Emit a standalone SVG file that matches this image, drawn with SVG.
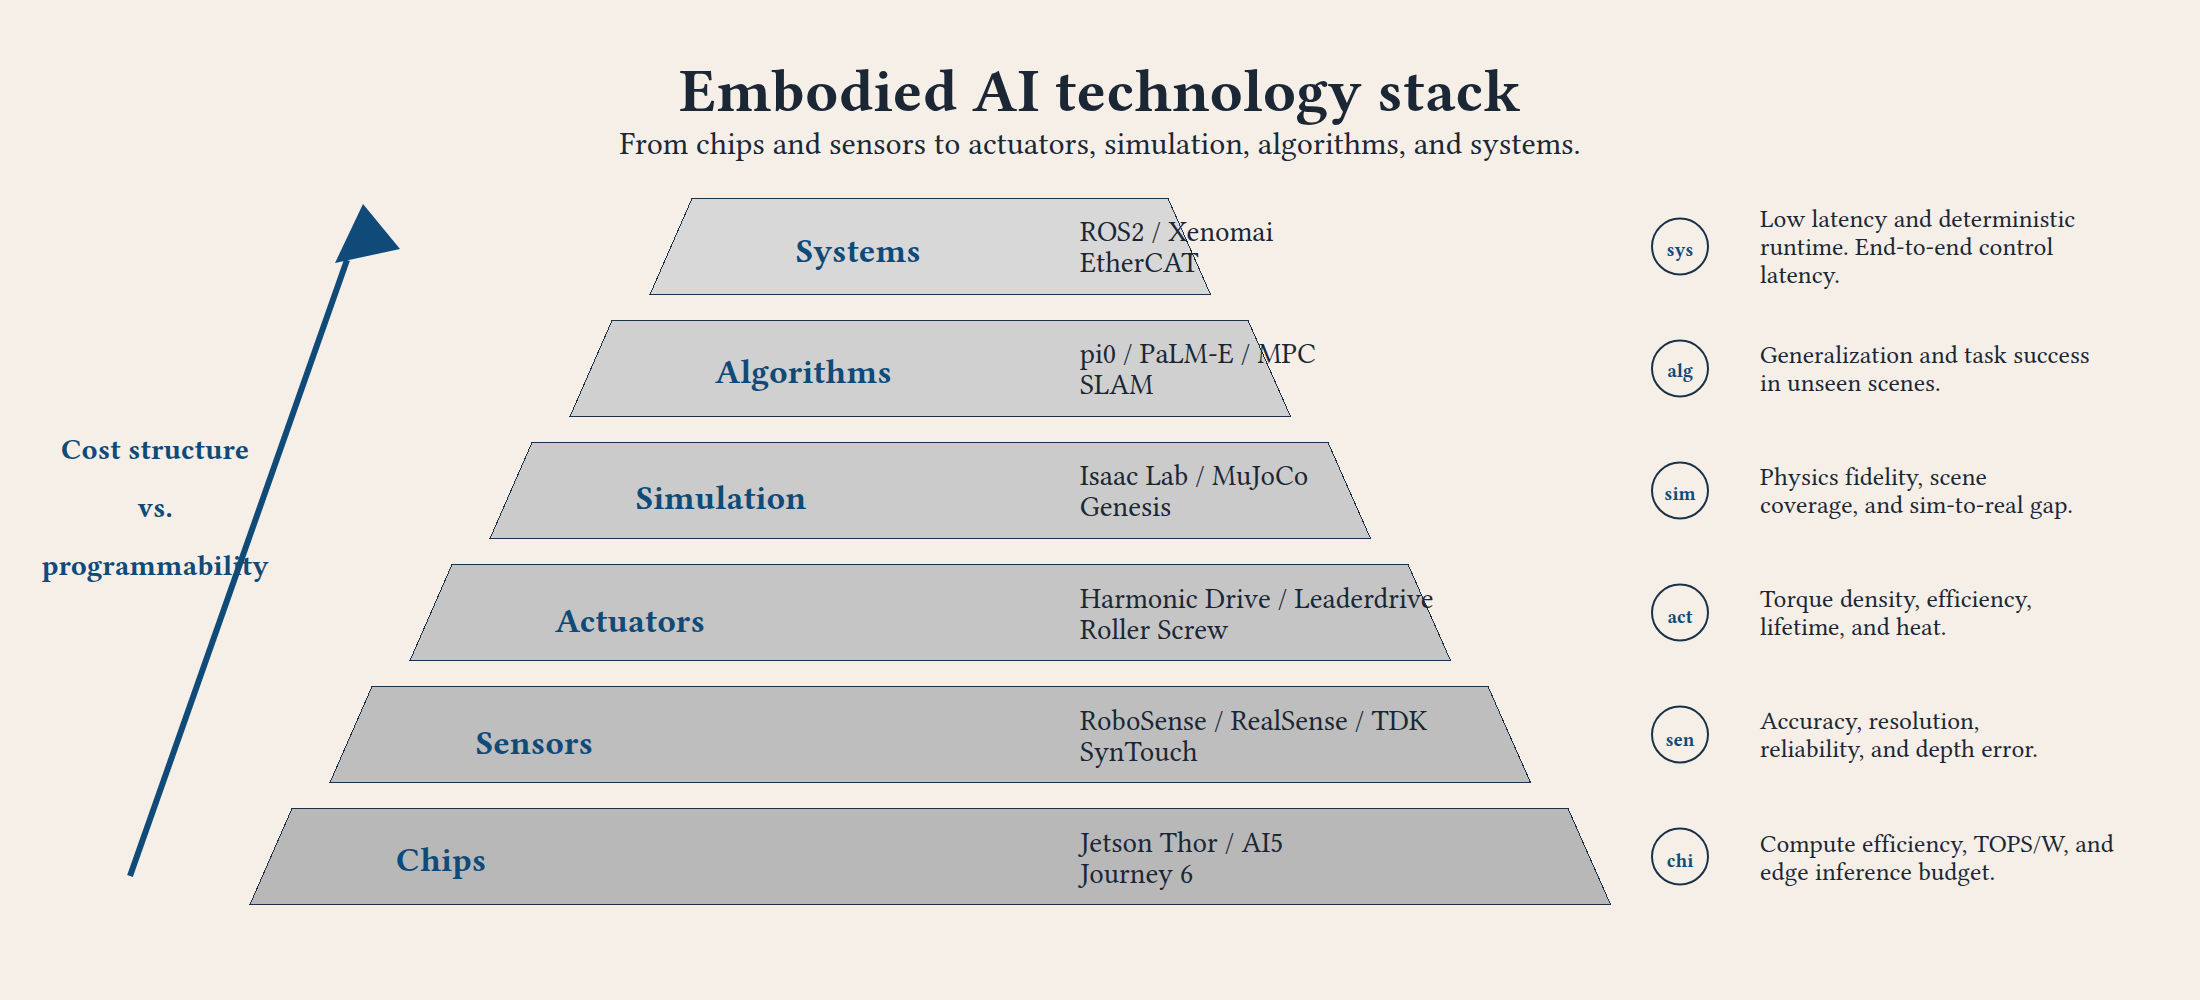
<svg xmlns="http://www.w3.org/2000/svg" width="2200" height="1000" viewBox="0 0 2200 1000">
<style>
text{font-family:"Libertinus Serif","Noto Serif CJK SC",serif}
.t{font-size:60.8px;font-weight:700;fill:#1b2735;text-anchor:middle}
.s{font-size:32px;fill:#1b2735;text-anchor:middle}
.l{font-size:34px;font-weight:700;fill:#0f4a78}
.d{font-size:28.8px;fill:#1b2735}
.n{font-size:25.5px;fill:#1b2735}
.c{font-size:19px;font-weight:700;fill:#0f4a78;text-anchor:middle}
.a{font-size:29.3px;font-weight:700;fill:#0f4a78;text-anchor:middle}
.b{stroke:#1b3148;stroke-width:1;shape-rendering:crispEdges}
.r{fill:none;stroke:#1b3148;stroke-width:2}
</style>
<rect width="2200" height="1000" fill="#f5efe8"/>
<g id="title"><text class="t" x="1100" y="111">Embodied AI technology stack</text><text class="s" x="1100" y="154">From chips and sensors to actuators, simulation, algorithms, and systems.</text></g>
<g id="connectors">
<line x1="130" y1="876" x2="347" y2="260" stroke="#0f4a78" stroke-width="6"/>
<polygon points="363,204 400,249 335,263" fill="#0f4a78"/>
</g>
<g id="axis-label"><text class="a" x="155" y="459">Cost structure</text><text class="a" x="155" y="517">vs.</text><text class="a" x="155" y="575">programmability</text></g>
<g id="systems"><polygon class="b" fill="#d8d8d8" points="692,198.5 1168,198.5 1210.5,294.5 650,294.5"/><text class="l" x="796" y="262">Systems</text><text class="d" x="1080" y="241">ROS2 / Xenomai</text><text class="d" x="1080" y="272">EtherCAT</text><circle class="r" cx="1680" cy="246.5" r="28"/><text class="c" x="1680" y="256">sys</text><text class="n" x="1760" y="227">Low latency and deterministic</text><text class="n" x="1760" y="255">runtime. End-to-end control</text><text class="n" x="1760" y="283">latency.</text></g>
<g id="algorithms"><polygon class="b" fill="#d0d0d0" points="612,320.5 1248,320.5 1290.5,416.5 570,416.5"/><text class="l" x="715" y="383">Algorithms</text><text class="d" x="1080" y="363">pi0 / PaLM-E / MPC</text><text class="d" x="1080" y="394">SLAM</text><circle class="r" cx="1680" cy="368.5" r="28"/><text class="c" x="1680" y="377">alg</text><text class="n" x="1760" y="363">Generalization and task success</text><text class="n" x="1760" y="391">in unseen scenes.</text></g>
<g id="simulation"><polygon class="b" fill="#cbcbcb" points="532,442.5 1328,442.5 1370.5,538.5 490,538.5"/><text class="l" x="636" y="509">Simulation</text><text class="d" x="1080" y="485">Isaac Lab / MuJoCo</text><text class="d" x="1080" y="516">Genesis</text><circle class="r" cx="1680" cy="490.5" r="28"/><text class="c" x="1680" y="500">sim</text><text class="n" x="1760" y="485">Physics fidelity, scene</text><text class="n" x="1760" y="513">coverage, and sim-to-real gap.</text></g>
<g id="actuators"><polygon class="b" fill="#c5c5c5" points="452,564.5 1408,564.5 1450.5,660.5 410,660.5"/><text class="l" x="555" y="632">Actuators</text><text class="d" x="1080" y="608">Harmonic Drive / Leaderdrive</text><text class="d" x="1080" y="639">Roller Screw</text><circle class="r" cx="1680" cy="612.5" r="28"/><text class="c" x="1680" y="623">act</text><text class="n" x="1760" y="607">Torque density, efficiency,</text><text class="n" x="1760" y="635">lifetime, and heat.</text></g>
<g id="sensors"><polygon class="b" fill="#bebebe" points="372,686.5 1488,686.5 1530.5,782.5 330,782.5"/><text class="l" x="476" y="754">Sensors</text><text class="d" x="1080" y="730">RoboSense / RealSense / TDK</text><text class="d" x="1080" y="761">SynTouch</text><circle class="r" cx="1680" cy="734.5" r="28"/><text class="c" x="1680" y="746">sen</text><text class="n" x="1760" y="729">Accuracy, resolution,</text><text class="n" x="1760" y="757">reliability, and depth error.</text></g>
<g id="chips"><polygon class="b" fill="#b8b8b8" points="292,808.5 1568,808.5 1610.5,904.5 250,904.5"/><text class="l" x="396" y="871">Chips</text><text class="d" x="1080" y="852">Jetson Thor / AI5</text><text class="d" x="1080" y="883">Journey 6</text><circle class="r" cx="1680" cy="856.5" r="28"/><text class="c" x="1680" y="867">chi</text><text class="n" x="1760" y="852">Compute efficiency, TOPS/W, and</text><text class="n" x="1760" y="880">edge inference budget.</text></g>
</svg>
